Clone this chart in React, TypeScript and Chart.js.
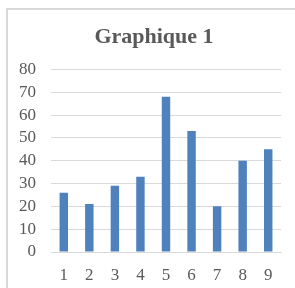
import React, { useEffect, useRef } from "react";
import { Chart, registerables } from "chart.js";

Chart.register(...registerables);

const categories = ["1", "2", "3", "4", "5", "6", "7", "8", "9"];
const values = [26, 21, 29, 33, 68, 53, 20, 40, 45];
const titleText = "Graphique 1";
const yMin = 0;
const yMax = 80;
const yStep = 10;

export default function App() {
  const ref = useRef<HTMLCanvasElement | null>(null);

  useEffect(() => {
    if (!ref.current) return;
    const font = "'Liberation Serif', 'Times New Roman', serif";
    const chart = new Chart(ref.current, {
      type: "bar",
      data: {
        labels: categories,
        datasets: [
          {
            data: values,
            backgroundColor: "#4F81BD",
            borderWidth: 0,
            barPercentage: 0.33,
            categoryPercentage: 1,
            yAxisID: "y",
          },
        ],
      },
      options: {
        responsive: false,
        animation: false,
        devicePixelRatio: 1,
        layout: { padding: { left: 0, right: 0, top: 0, bottom: 0 } },
        plugins: {
          legend: { display: false },
          tooltip: { enabled: false },
          title: {
            display: true,
            text: titleText,
            color: "#595959",
            font: { family: font, size: 22, weight: "bold", lineHeight: 1.2 },
            padding: { top: 14, bottom: 19 },
          },
        },
        scales: {
          x: {
            grid: { display: false, drawTicks: false },
            border: { display: true, color: "#d9d9d9", width: 1 },
            ticks: {
              color: "#595959",
              font: { family: font, size: 17 },
              padding: 13,
              maxRotation: 0,
            },
            afterFit: (scale: any) => {
              scale.height = 36;
            },
          },
          y: {
            position: "left",
            min: yMin,
            max: yMax,
            grid: { color: "#d9d9d9", drawTicks: false, lineWidth: 1 },
            border: { display: false },
            ticks: {
              stepSize: yStep,
              autoSkip: false,
              color: "#595959",
              font: { family: font, size: 17 },
              padding: 15,
            },
            afterFit: (scale: any) => {
              scale.width = 43;
            },
          },
          yRight: {
            position: "right",
            display: true,
            min: yMin,
            max: yMax,
            grid: { display: false, drawTicks: false },
            border: { display: false },
            ticks: { display: false },
            afterFit: (scale: any) => {
              scale.width = 19;
            },
          },
        },
      },
    });
    return () => chart.destroy();
  }, []);

  return (
    <div
      style={{
        position: "fixed",
        left: 0,
        top: 0,
        width: 295,
        height: 288,
        overflow: "hidden",
        background: "#ffffff",
      }}
    >
      <div
        style={{
          position: "absolute",
          left: 6,
          top: 8,
          width: 300,
          height: 300,
          borderLeft: "2px solid #d9d9d9",
          borderTop: "2px solid #d9d9d9",
          background: "#ffffff",
        }}
      >
        <canvas
          ref={ref}
          width={292}
          height={278}
          style={{ display: "block", width: 292, height: 278 }}
        />
      </div>
    </div>
  );
}
